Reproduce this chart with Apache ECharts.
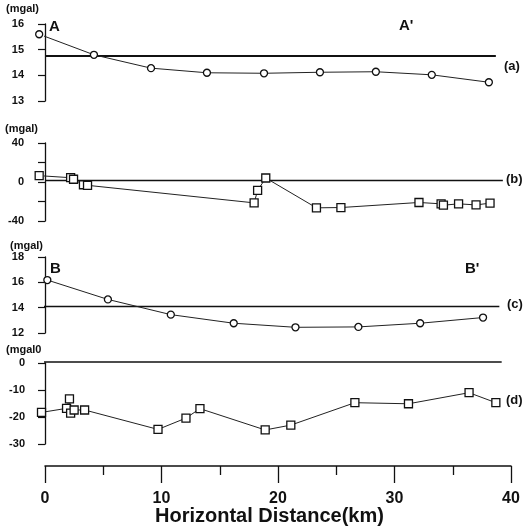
<!DOCTYPE html>
<html>
<head>
<meta charset="utf-8">
<script src="https://cdn.jsdelivr.net/npm/echarts@6/dist/echarts.min.js"></script>
<style>html,body{margin:0;padding:0;background:#fff}#c{width:528px;height:529px}</style>
</head>
<body>
<div id="c"></div>
<script>
// Panel (a)
const kmA = [-0.5, 4.2, 9.1, 13.9, 18.8, 23.6, 28.4, 33.2, 38.1];
const valA = [15.6, 14.8, 14.28, 14.1, 14.08, 14.12, 14.14, 14.02, 13.73];
const refKmA = [0, 38.7];
const refValA = [14.75, 14.75];
// Panel (b)
const kmB = [-0.5, 2.2, 2.45, 3.3, 3.65, 17.95, 18.25, 18.95, 23.3, 25.4, 32.1, 34.0, 34.2, 35.5, 37.0, 38.2];
const valB = [6.5, 4.4, 2.8, -2.8, -3.4, -21.4, -8.6, 4.1, -26.5, -26.2, -21, -22.4, -23.8, -22.4, -23.5, -21.7];
const refKmB = [0, 39.3];
const refValB = [1.5, 1.5];
// Panel (c)
const kmC = [0.2, 5.4, 10.8, 16.2, 21.5, 26.9, 32.2, 37.6];
const valC = [16.18, 14.65, 13.45, 12.77, 12.45, 12.48, 12.77, 13.22];
const refKmC = [-0.3, 39.0];
const refValC = [14.1, 14.1];
// Panel (d)
const kmD = [-0.3, 1.85, 2.1, 2.2, 2.5, 3.4, 9.7, 12.1, 13.3, 18.9, 21.1, 26.6, 31.2, 36.4, 38.7];
const valD = [-18.3, -16.8, -13.3, -18.6, -17.4, -17.4, -24.6, -20.4, -16.9, -24.8, -23, -14.7, -15.1, -11, -14.7];
const refKmD = [-0.3, 39.2];
const refValD = [0.4, 0.4];
// Axis ticks
const xTicks = [0, 10, 20, 30, 40];

const pairs = (xs, ys) => xs.map((x, i) => [x, ys[i]]);
const FONT = '"Liberation Sans", Arial, sans-serif';

const chart = echarts.init(document.getElementById('c'), null, {renderer: 'canvas'});

const gridBase = {left: 45, right: 17};
const grids = [
  Object.assign({top: 24, height: 77}, gridBase),
  Object.assign({top: 143, height: 78}, gridBase),
  Object.assign({top: 257, height: 76}, gridBase),
  Object.assign({top: 363, height: 81}, gridBase),
  Object.assign({top: 465, height: 1}, gridBase)
];

const hiddenX = i => ({type: 'value', gridIndex: i, min: 0, max: 40, show: false});

const yAx = (i, min, max, interval, offset, margin, fmt) => ({
  type: 'value', gridIndex: i, min: min, max: max, interval: interval, offset: offset,
  axisLine: {show: true, lineStyle: {color: '#111', width: 1.3}},
  axisTick: {show: true, length: 7, lineStyle: {color: '#111', width: 1.2}},
  axisLabel: {color: '#111', fontSize: 11, fontWeight: 'bold', fontFamily: FONT, margin: margin, formatter: fmt},
  splitLine: {show: false}
});

const dataLine = (i, xs, ys, sym, size) => ({
  type: 'line', xAxisIndex: i, yAxisIndex: i, data: pairs(xs, ys), clip: false,
  symbol: sym, symbolSize: size, showSymbol: true,
  lineStyle: {color: '#222', width: 1},
  itemStyle: {color: '#fff', borderColor: '#111', borderWidth: 1.3},
  animation: false, z: 3
});
const refLine = (i, xs, ys, w) => ({
  type: 'line', xAxisIndex: i, yAxisIndex: i, data: pairs(xs, ys), clip: false,
  symbol: 'none', lineStyle: {color: '#111', width: w}, animation: false, z: 2
});

// x = left edge, y = vertical centre of the text
const txt = (x, y, s, size) => ({
  type: 'text', left: x, top: Math.round(y - size * 0.6),
  style: {text: s, fill: '#111', font: 'bold ' + size + 'px ' + FONT}
});

const option = {
  backgroundColor: '#fff',
  animation: false,
  grid: grids,
  xAxis: [hiddenX(0), hiddenX(1), hiddenX(2), hiddenX(3), {
    type: 'value', gridIndex: 4, min: 0, max: 40, interval: 10, position: 'bottom',
    axisLine: {show: true, lineStyle: {color: '#111', width: 1.5}},
    axisTick: {show: true, length: 17, lineStyle: {color: '#111', width: 1.3}},
    minorTick: {show: true, splitNumber: 2, length: 9, lineStyle: {color: '#111', width: 1.3}},
    axisLabel: {color: '#111', fontSize: 16, fontWeight: 'bold', fontFamily: FONT, margin: 25,
      formatter: v => xTicks.indexOf(v) >= 0 ? String(v) : ''},
    splitLine: {show: false}
  }],
  yAxis: [
    yAx(0, 13, 16, 1, 5, 16),
    yAx(1, -40, 40, 20, 5, 16, v => (v % 40 === 0 ? String(v) : '')),
    yAx(2, 12, 18, 2, 2, 19),
    yAx(3, -30, 0, 10, 4, 16),
    {type: 'value', gridIndex: 4, show: false}
  ],
  series: [
    refLine(0, refKmA, refValA, 2),
    dataLine(0, kmA, valA, 'circle', 7),
    refLine(1, refKmB, refValB, 1.5),
    dataLine(1, kmB, valB, 'rect', 8),
    refLine(2, refKmC, refValC, 1.5),
    dataLine(2, kmC, valC, 'circle', 7),
    refLine(3, refKmD, refValD, 1.5),
    dataLine(3, kmD, valD, 'rect', 8)
  ],
  graphic: [
    txt(6, 10, '(mgal)', 11),
    txt(49, 28, 'A', 15),
    txt(399, 27, "A'", 15),
    txt(504, 68, '(a)', 13),
    txt(5, 130, '(mgal)', 11),
    txt(506, 181, '(b)', 13),
    txt(10, 247, '(mgal)', 11),
    txt(50, 270, 'B', 15),
    txt(465, 270, "B'", 15),
    txt(507, 306, '(c)', 13),
    txt(6, 351, '(mgal0', 11),
    txt(506, 402, '(d)', 13),
    txt(155, 518, 'Horizontal Distance(km)', 20)
  ]
};
chart.setOption(option);
</script>
</body>
</html>
